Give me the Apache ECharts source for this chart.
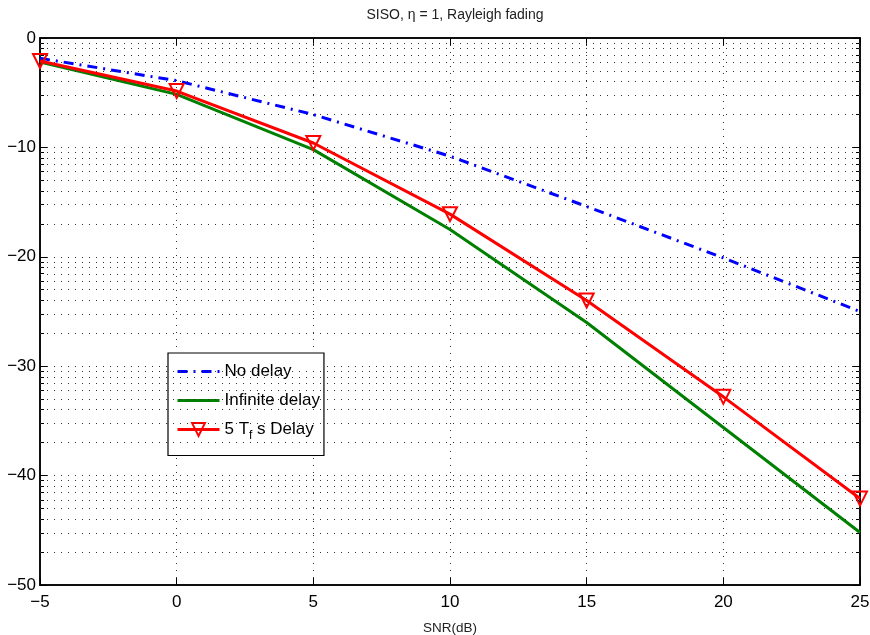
<!DOCTYPE html>
<html><head><meta charset="utf-8">
<script src="https://cdn.jsdelivr.net/npm/echarts@6/dist/echarts.min.js"></script>
<style>html,body{margin:0;padding:0;background:#fff}#c{width:870px;height:635px}</style>
</head><body><div id="c"></div>
<script>
const snr = [-5, 0, 5, 10, 15, 20, 25];
const noDelay = [-1.85, -3.9, -7.0, -10.8, -15.4, -20.1, -25.0];
const infiniteDelay = [-2.2, -5.15, -10.2, -17.5, -26.0, -35.6, -45.2];
const delay5Tf = [-2.1, -4.85, -9.6, -16.1, -24.0, -32.8, -42.1];
const seriesNames = ['No delay', 'Infinite delay', '5 T_f s Delay'];
const yDecades = [0, -10, -20, -30, -40];
const minorSteps = [2, 3, 4, 5, 6, 7, 8, 9];

const minorValues = [];
yDecades.forEach(d => minorSteps.forEach(n => minorValues.push(d - 10 * (1 - Math.log10(n)))));

const font = 'Liberation Sans, Arial, Helvetica, sans-serif';
const pair = arr => snr.map((x, i) => [x, arr[i]]);
const fmtNum = v => v < 0 ? '\u2212' + Math.abs(v) : String(v);

const gridLine = {show: true, lineStyle: {color: '#333', width: 1, type: [1, 6]}};
const frameLine = {show: true, onZero: false, lineStyle: {color: '#000', width: 1.5}};
const tick = {show: true, inside: true, length: 7, lineStyle: {color: '#000'}};
const minorTick = {show: true, inside: true, length: 4, customValues: minorValues, lineStyle: {color: '#000'}};

const chart = echarts.init(document.getElementById('c'));
chart.setOption({
  animation: false,
  backgroundColor: '#fff',
  title: {
    text: 'SISO, \u03b7 = 1, Rayleigh fading',
    left: 450, top: 3, textAlign: 'center',
    textStyle: {fontFamily: font, fontSize: 14, fontWeight: 'normal', color: '#222'}
  },
  grid: {left: 40, right: 10, top: 38, bottom: 50, outerBoundsMode: 'none', containLabel: false,
         show: true, borderColor: '#000', borderWidth: 1.5, backgroundColor: 'transparent'},
  xAxis: [{
    type: 'value', min: -5, max: 25, interval: 5,
    name: 'SNR(dB)', nameLocation: 'middle', nameGap: 36,
    nameTextStyle: {fontFamily: font, fontSize: 13.5, color: '#222'},
    axisLine: frameLine, axisTick: tick,
    axisLabel: {fontFamily: font, fontSize: 17, color: '#000', margin: 9, formatter: fmtNum},
    splitLine: gridLine
  }, {
    type: 'value', min: -5, max: 25, interval: 5, position: 'top',
    axisLine: frameLine, axisTick: tick,
    axisLabel: {show: false}, splitLine: {show: false}
  }],
  yAxis: [{
    type: 'value', min: -50, max: 0, interval: 10,
    axisLine: frameLine, axisTick: tick,
    axisLabel: {fontFamily: font, fontSize: 17, color: '#000', margin: 4, formatter: fmtNum},
    splitLine: gridLine
  }, {
    type: 'value', min: -50, max: 0, interval: 10, position: 'right',
    axisLine: frameLine, axisTick: tick,
    axisLabel: {show: false}, splitLine: {show: false}
  }, {
    type: 'value', min: -50, max: 0, interval: 10, position: 'left',
    axisLine: {show: false, onZero: false}, axisTick: minorTick,
    axisLabel: {show: false}, splitLine: {show: false}
  }, {
    type: 'value', min: -50, max: 0, interval: 10, position: 'right',
    axisLine: {show: false, onZero: false}, axisTick: minorTick,
    axisLabel: {show: false}, splitLine: {show: false}
  }],
  legend: {
    orient: 'vertical', left: 168, top: 353,
    data: [
      {name: seriesNames[0], itemStyle: {opacity: 0}, lineStyle: {width: 3}},
      {name: seriesNames[1], itemStyle: {opacity: 0}, lineStyle: {width: 3}},
      {name: seriesNames[2], lineStyle: {width: 3}}
    ],
    backgroundColor: '#fff', borderColor: '#000', borderWidth: 1.2, borderRadius: 0,
    padding: [10, 4, 14, 8], itemGap: 12, itemWidth: 42, itemHeight: 16,
    textStyle: {fontFamily: font, fontSize: 17, color: '#000',
      rich: {sub: {fontFamily: font, fontSize: 12, verticalAlign: 'bottom', padding: [12, 0, 0, 0], color: '#000'},
             n: {fontFamily: font, fontSize: 17, color: '#000'}}},
    formatter: name => name === '5 T_f s Delay' ? '{n|5 T}{sub|f}{n| s Delay}' : name
  },
  series: [{
    name: seriesNames[0], type: 'line', data: pair(noDelay), symbol: 'none', z: 3,
    lineStyle: {color: '#0000ff', width: 3, type: [10, 6, 2, 6]}, itemStyle: {color: '#0000ff'}
  }, {
    name: seriesNames[1], type: 'line', data: pair(infiniteDelay), symbol: 'none', z: 4,
    lineStyle: {color: '#008000', width: 3}, itemStyle: {color: '#008000'}
  }, {
    name: seriesNames[2], type: 'line', data: pair(delay5Tf), z: 5,
    symbol: 'triangle', symbolRotate: 180, symbolSize: 14, showAllSymbol: true,
    lineStyle: {color: '#ff0000', width: 3},
    itemStyle: {color: 'rgba(255,255,255,0)', borderColor: '#ff0000', borderWidth: 2}
  }, {
    name: 'minorGrid', type: 'line', data: [], silent: true, z: 1,
    markLine: {
      silent: true, symbol: 'none', label: {show: false}, animation: false,
      lineStyle: {color: '#333', width: 1, type: [1, 6]},
      data: minorValues.map(v => ({yAxis: v}))
    }
  }]
});
</script></body></html>
